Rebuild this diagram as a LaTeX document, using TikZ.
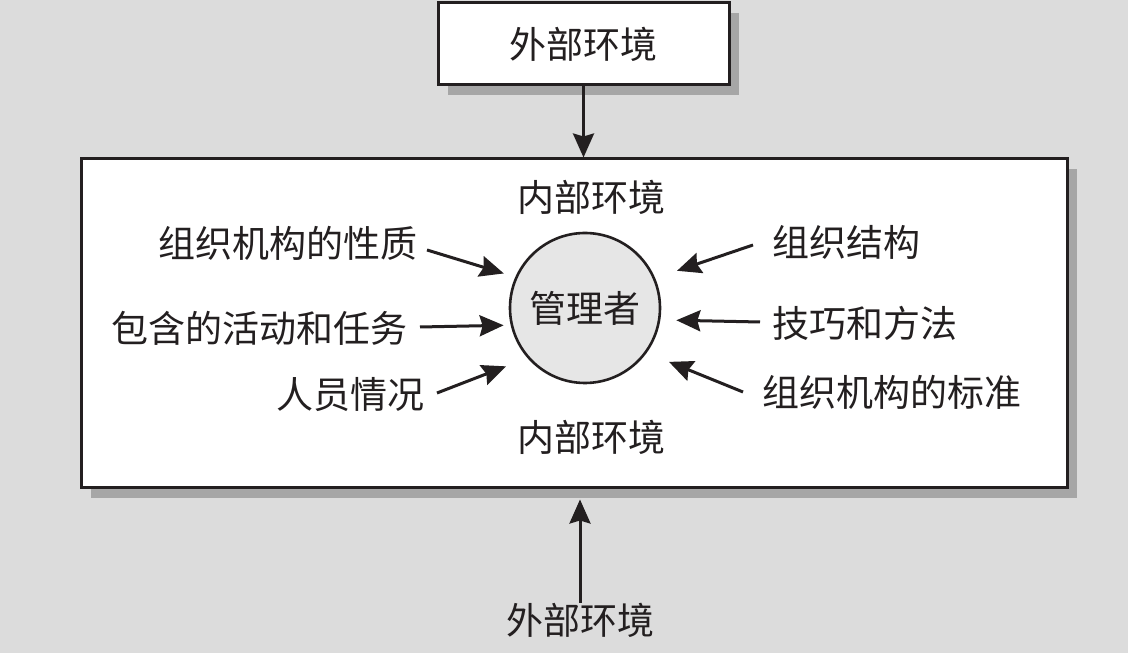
\documentclass[tikz,border=0pt]{standalone}
\usepackage{fontspec}
\setmainfont{Noto Sans CJK SC}
\usepackage{tikz}
\usetikzlibrary{positioning, arrows.meta, shadows}
\usepackage{xcolor}

\definecolor{bggray}{HTML}{DCDCDC}
\definecolor{shadegray}{HTML}{A6A6A6}
\definecolor{mgrgray}{HTML}{E6E6E6}
\definecolor{inkblack}{HTML}{231F20}

\tikzset{
    envbox/.style={draw=inkblack, line width=3pt, fill=white,
        drop shadow={shadow xshift=10pt, shadow yshift=-10pt, fill=shadegray, opacity=1}},
    lbl/.style={inner sep=0pt, text=inkblack, font=\fontsize{37}{40}\selectfont},
    arr/.style={-{Stealth[length=24pt, width=21pt, inset=3pt]}, line width=3pt, draw=inkblack}
}

\begin{document}
\begin{tikzpicture}[x=1pt, y=1pt]
    % Background
    \fill[bggray] (0,0) rectangle (1128,653);
    \useasboundingbox (0,0) rectangle (1128,653);

    % External environment box
    \node[envbox, lbl, minimum width=291pt, minimum height=82pt] (ext1) at (583.5,609) {外部环境};

    % Internal environment box
    \node[envbox, minimum width=986pt, minimum height=329pt] (inner) at (574,329.5) {};

    % Manager
    \node[circle, draw=inkblack, line width=2.6pt, fill=mgrgray, minimum size=150pt, lbl] (mgr) at (585,345) {管理者};

    % Labels
    \node[lbl] (in1) at (591,456) {内部环境};
    \node[lbl] (in2) at (591,216) {内部环境};
    \node[lbl] (ext2) at (580,33) {外部环境};
    \node[lbl, anchor=east] (l1) at (418,410) {组织机构的性质};
    \node[lbl, anchor=east] (l2) at (408,325) {包含的活动和任务};
    \node[lbl, anchor=east] (l3) at (425,258) {人员情况};
    \node[lbl, anchor=west] (r1) at (772,411) {组织结构};
    \node[lbl, anchor=west] (r2) at (772,330) {技巧和方法};
    \node[lbl, anchor=west] (r3) at (762,261) {组织机构的标准};

    % Environment arrows
    \draw[arr] (ext1.south) -- (ext1.south |- inner.north);
    \draw[arr, shorten >=10pt] (ext2.north) -- (ext2.north |- inner.south);

    % Factors acting on the manager
    \draw[arr, shorten >=12pt] ([xshift=9pt, yshift=-7pt]l1.east) -- (mgr.156);
    \draw[arr, shorten >=7pt] ([xshift=12pt, yshift=1pt]l2.east) -- (mgr.193);
    \draw[arr, shorten >=23pt] ([xshift=12pt, yshift=2pt]l3.east) -- (mgr.221);
    \draw[arr, shorten >=23pt] ([xshift=-19pt, yshift=-3pt]r1.west) -- (mgr.23);
    \draw[arr, shorten >=16pt] ([xshift=-12pt, yshift=1pt]r2.west) -- (mgr.351);
    \draw[arr, shorten >=24pt] ([xshift=-19pt]r3.west) -- (mgr.324);
\end{tikzpicture}
\end{document}
